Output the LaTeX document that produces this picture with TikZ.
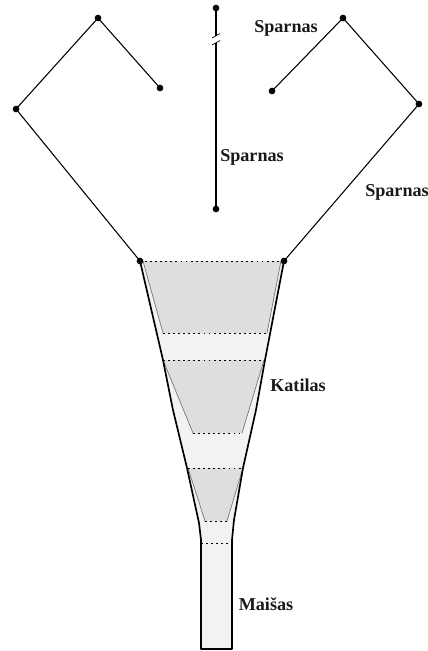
\documentclass[tikz,border=0pt]{standalone}
\usepackage{fontspec}
\setmainfont{Liberation Serif}
\tikzset{
  x=0.75pt,y=-0.75pt,
  dotnode/.style={circle,fill=black,inner sep=0pt,minimum size=5pt},
  wing/.style={draw=black,line width=0.8pt},
  wall/.style={draw=black,line width=1.25pt},
  level/.style={draw=black,line width=0.6pt,dash pattern=on 1.4pt off 2.4pt},
  laywall/.style={draw=black!55,line width=0.5pt},
  lab/.style={font=\bfseries\fontsize{13.6}{15}\selectfont,text=black!90,inner sep=0pt},
}
\begin{document}
\begin{tikzpicture}
\useasboundingbox (0,0) rectangle (428,651);
\fill[white] (0,0) rectangle (428,651);
% body
\fill[black!5] (140,261) -- (163,360) -- (173,410) -- (187,468) -- (199,523) -- (201,540) -- (201,649) -- (232,649) -- (232,540) -- (234,520) -- (243,468) -- (256,410) -- (265,360) -- (284,261) -- cycle;
% layers
\fill[black!13] (143,261) -- (163,333) -- (267,333) -- (281,261) -- cycle;
\fill[black!13] (163,360) -- (193,433) -- (242,433) -- (264,360) -- cycle;
\fill[black!13] (188,468) -- (205,521) -- (227,521) -- (243,468) -- cycle;
\draw[laywall] (143,261) -- (163,333) (267,333) -- (281,261);
\draw[laywall] (163,360) -- (193,433) (242,433) -- (264,360);
\draw[laywall] (188,468) -- (205,521) (227,521) -- (243,468);
% level lines
\coordinate (a1) at (140,261); \coordinate (a2) at (284,261);
\coordinate (b1) at (163,333); \coordinate (b2) at (267,333);
\coordinate (c1) at (163,360); \coordinate (c2) at (264,360);
\coordinate (d1) at (193,433); \coordinate (d2) at (242,433);
\coordinate (e1) at (188,468); \coordinate (e2) at (243,468);
\coordinate (f1) at (205,521); \coordinate (f2) at (227,521);
\coordinate (g1) at (201,543); \coordinate (g2) at (232,543);
\foreach \p/\q in {a1/a2,b1/b2,c1/c2,d1/d2,e1/e2,f1/f2,g1/g2}
  \draw[level] (\p) -- (\q);
% dots
\node[dotnode] (ll) at (140,261) {};
\node[dotnode] (lr) at (284,261) {};
\node[dotnode] (l1) at (16,109) {};
\node[dotnode] (l2) at (98,18) {};
\node[dotnode] (l3) at (160,88) {};
\node[dotnode] (r1) at (419,104) {};
\node[dotnode] (r2) at (343,18) {};
\node[dotnode] (r3) at (272,91) {};
\node[dotnode] (m1) at (216,8) {};
\node[dotnode] (m2) at (216,209) {};
% wings
\draw[wing] (ll.center) -- (l1.center) -- (l2.center) -- (l3.center);
\draw[wing] (lr.center) -- (r1.center) -- (r2.center) -- (r3.center);
% middle wing with break
\coordinate (bk1) at (216,36);
\coordinate (bk2) at (216,43);
\draw[wing] (m1.center) -- (bk1);
\draw[wing] (bk2) -- (m2.center);
\draw[line width=0.5pt] (212,38) -- (220,33.5);
\draw[line width=0.5pt] (212,45) -- (220,40.5);
% walls
\draw[wall,line join=round] (ll.center) -- (163,360) -- (173,410) -- (187,468) -- (199,523) -- (201,540) -- (201,649) -- (232,649) -- (232,540) -- (234,520) -- (243,468) -- (256,410) -- (265,360) -- (lr.center);
% labels
\node[lab] at (286,28) {Sparnas};
\node[lab] at (252,157) {Sparnas};
\node[lab] at (397,192) {Sparnas};
\node[lab] at (298,385) {Katilas};
\node[lab] at (266,604) {Maišas};
\end{tikzpicture}
\end{document}
